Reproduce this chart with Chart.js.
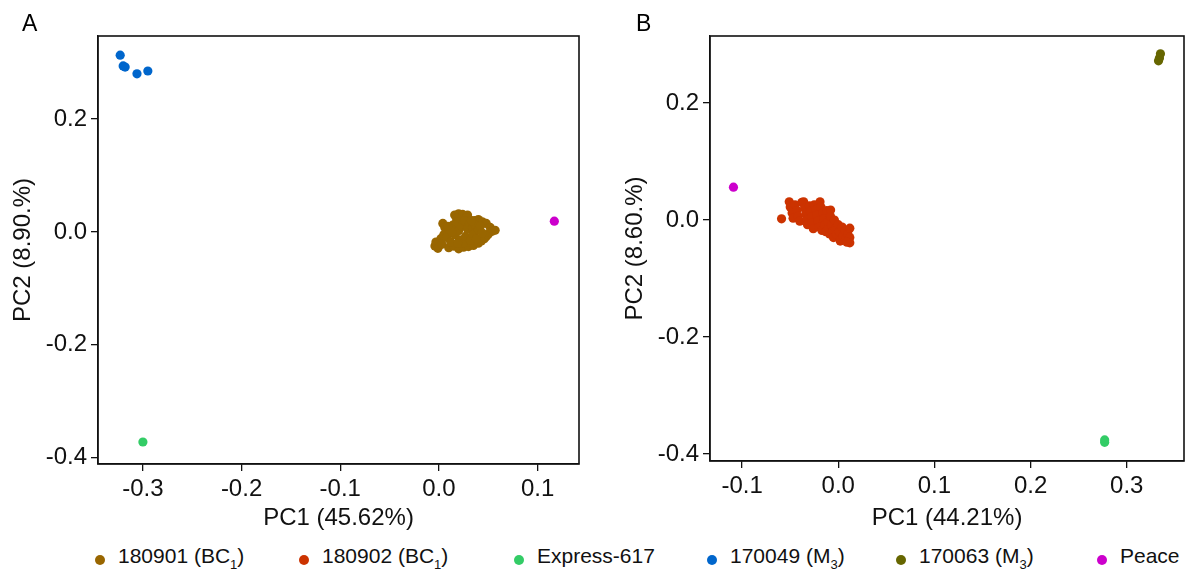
<!DOCTYPE html>
<html>
<head>
<meta charset="utf-8">
<script src="https://cdn.jsdelivr.net/npm/chart.js@4/dist/chart.umd.min.js"></script>
<style>
  body { margin: 0; background: #fff; font-family: "Liberation Sans", Arial, sans-serif; }
  #wrap { position: relative; width: 1189px; height: 570px; overflow: hidden; }
  canvas { position: absolute; top: 0; }
  .tag { position: absolute; top: 10px; font-size: 23px; color: #000; }
  .item { position: absolute; top: 544px; font-size: 21px; color: #111; white-space: nowrap; }
  .item sub { font-size: 13px; vertical-align: -6px; }
  .dot { position: absolute; width: 10px; height: 10px; border-radius: 50%; top: 555px; }
</style>
</head>
<body>
<div id="wrap">
  <canvas id="chartA" width="600" height="535" style="left:0px"></canvas>
  <canvas id="chartB" width="577" height="535" style="left:612px"></canvas>
  <div class="tag" style="left:22px">A</div>
  <div class="tag" style="left:636px">B</div>
  <div id="legend"></div>
</div>
<script>
// MARK: - Data
const groups = ['180901 (BC<sub>1</sub>)', '180902 (BC<sub>1</sub>)', 'Express-617', '170049 (M<sub>3</sub>)', '170063 (M<sub>3</sub>)', 'Peace'];
const colores = ['#996600', '#cc3300', '#33cc66', '#0066cc', '#666600', '#cc00cc'];

// panel A (PC1 45.62%, PC2 8.90%)
const a180901 = [
  [-0.004,-0.025],[-0.003,-0.018],[-0.001,-0.029],[0.002,-0.012],[0.003,-0.022],[0.004,0.015],[0.006,0.008],[0.005,-0.005],
  [0.016,0.030],[0.020,0.032],[0.024,0.031],[0.029,0.030],[0.028,0.025],[0.018,0.024],
  [0.036,0.020],[0.040,0.022],[0.044,0.018],[0.048,0.015],[0.052,0.008],[0.057,0.003],[0.054,0.001],[0.050,-0.004],[0.048,-0.008],[0.046,-0.012],
  [0.010,-0.028],[0.015,-0.025],[0.020,-0.030],[0.025,-0.027],[0.030,-0.026],[0.035,-0.024],[0.040,-0.020],[0.043,-0.016],
  [0.008,-0.010],[0.010,0.005],[0.012,-0.018],[0.014,0.012],[0.016,-0.005],[0.018,0.018],[0.020,0.002],[0.021,-0.014],
  [0.023,0.010],[0.025,-0.020],[0.026,0.020],[0.027,-0.008],[0.029,0.005],[0.031,0.014],[0.032,-0.015],[0.034,0.008],
  [0.035,-0.004],[0.037,0.012],[0.038,-0.012],[0.040,0.004],[0.042,0.010],[0.044,-0.002],[0.013,0.000],[0.009,0.010],
  [0.019,-0.020],[0.033,0.020]
];
const aExpress = [[-0.300,-0.372]];
const a170049 = [[-0.323,0.313],[-0.320,0.294],[-0.318,0.292],[-0.306,0.280],[-0.295,0.285]];
const aPeace = [[0.117,0.019]];

// panel B (PC1 44.21%, PC2 8.60%)
const b180902 = [
  [-0.059,0.002],
  [-0.051,0.031],[-0.050,0.022],[-0.048,0.012],[-0.047,0.003],[-0.045,0.026],[-0.043,0.016],[-0.042,0.006],[-0.040,-0.002],
  [-0.038,0.030],[-0.036,0.031],[-0.035,0.020],[-0.034,0.010],[-0.033,0.000],[-0.032,-0.008],[-0.030,0.024],[-0.029,0.015],
  [-0.028,0.005],[-0.027,-0.005],[-0.026,-0.015],[-0.025,0.026],[-0.023,0.018],[-0.022,0.008],[-0.021,-0.002],[-0.020,-0.012],
  [-0.019,0.031],[-0.018,0.022],[-0.017,-0.018],[-0.016,0.012],[-0.015,0.002],[-0.014,-0.008],[-0.013,-0.020],[-0.012,0.016],
  [-0.011,-0.004],[-0.010,-0.014],[-0.009,-0.024],[-0.008,0.006],[-0.007,-0.010],[-0.006,-0.020],[-0.005,-0.030],[-0.004,0.000],
  [-0.003,-0.015],[-0.002,-0.025],[0.000,-0.008],[0.001,-0.020],[0.002,-0.036],[0.004,-0.012],[0.005,-0.028],[0.007,-0.018],
  [0.008,-0.032],[0.010,-0.024],[0.012,-0.014],[0.012,-0.030],[0.012,-0.039],[0.009,-0.038],[-0.008,0.017]
];
const bExpress = [[0.277,-0.376],[0.277,-0.380]];
const b170063 = [[0.335,0.284],[0.334,0.277],[0.333,0.272]];
const bPeace = [[-0.109,0.056]];

const xTicksA = [-0.3, -0.2, -0.1, 0.0, 0.1];
const yTicksA = [-0.4, -0.2, 0.0, 0.2];
const xTicksB = [-0.1, 0.0, 0.1, 0.2, 0.3];
const yTicksB = [-0.4, -0.2, 0.0, 0.2];

// MARK: - Helpers
function puntos(arr) {
  return arr.map(function(p) { return { x: p[0], y: p[1] }; });
}

function serie(arr, idx) {
  return {
    data: puntos(arr),
    backgroundColor: colores[idx],
    pointRadius: 4.6,
    pointBorderWidth: 0,
    pointHoverRadius: 4.6
  };
}

const boxPlugin = {
  id: 'box',
  afterDraw: function(chart) {
    const a = chart.chartArea;
    const ctx = chart.ctx;
    ctx.save();
    ctx.strokeStyle = '#111';
    ctx.lineWidth = 1.6;
    ctx.strokeRect(a.left, a.top, a.right - a.left, a.bottom - a.top);
    ctx.restore();
  }
};

const fuente = { family: '"Liberation Sans", Arial, sans-serif', size: 24 };

function makePanel(id, datasets, xr, yr, xt, yt, xTitle, yTitle, padRight, xHeight) {
  const ctx = document.getElementById(id).getContext('2d');
  return new Chart(ctx, {
    type: 'scatter',
    data: { datasets: datasets },
    plugins: [boxPlugin],
    options: {
      responsive: false,
      animation: false,
      layout: { padding: { top: 36, right: padRight, left: 0, bottom: 0 } },
      plugins: { legend: { display: false }, tooltip: { enabled: false } },
      scales: {
        x: {
          type: 'linear', min: xr[0], max: xr[1],
          afterBuildTicks: function(s) { s.ticks = xt.map(function(v) { return { value: v }; }); },
          afterFit: function(s) { s.height = xHeight; },
          grid: { display: true, drawOnChartArea: false, drawTicks: true, tickLength: 7, color: '#111', lineWidth: 1.3 },
          border: { display: true, color: '#111', width: 1.3 },
          ticks: { color: '#111', font: fuente, padding: 4, maxRotation: 0, autoSkip: false,
                   callback: function(v) { return v.toFixed(1); } },
          title: { display: true, text: xTitle, color: '#111', font: fuente, padding: { top: 0, bottom: 2 } }
        },
        y: {
          type: 'linear', min: yr[0], max: yr[1],
          afterBuildTicks: function(s) { s.ticks = yt.map(function(v) { return { value: v }; }); },
          afterFit: function(s) { s.width = 98; },
          grid: { display: true, drawOnChartArea: false, drawTicks: true, tickLength: 7, color: '#111', lineWidth: 1.3 },
          border: { display: true, color: '#111', width: 1.3 },
          ticks: { color: '#111', font: fuente, padding: 4, autoSkip: false,
                   callback: function(v) { return v.toFixed(1); } },
          title: { display: true, text: yTitle, color: '#111', font: fuente, padding: { top: 9, bottom: 0 } }
        }
      }
    }
  });
}

// MARK: - Charts
makePanel('chartA',
  [serie(a180901, 0), serie(aExpress, 2), serie(a170049, 3), serie(aPeace, 5)],
  [-0.3455, 0.142], [-0.411, 0.347], xTicksA, yTicksA,
  'PC1 (45.62%)', 'PC2 (8.90.%)', 21, 71);

makePanel('chartB',
  [serie(b180902, 1), serie(bExpress, 2), serie(b170063, 4), serie(bPeace, 5)],
  [-0.1334, 0.3595], [-0.412, 0.3145], xTicksB, yTicksB,
  'PC1 (44.21%)', 'PC2 (8.60.%)', 5, 74);

// MARK: - Legend
const legendX = [95, 299, 514, 707, 896, 1097];
const legendBox = document.getElementById('legend');
groups.forEach(function(g, i) {
  const dot = document.createElement('div');
  dot.className = 'dot';
  dot.style.left = legendX[i] + 'px';
  dot.style.background = colores[i];
  legendBox.appendChild(dot);
  const item = document.createElement('div');
  item.className = 'item';
  item.style.left = (legendX[i] + 23) + 'px';
  item.innerHTML = g;
  legendBox.appendChild(item);
});
</script>
</body>
</html>
